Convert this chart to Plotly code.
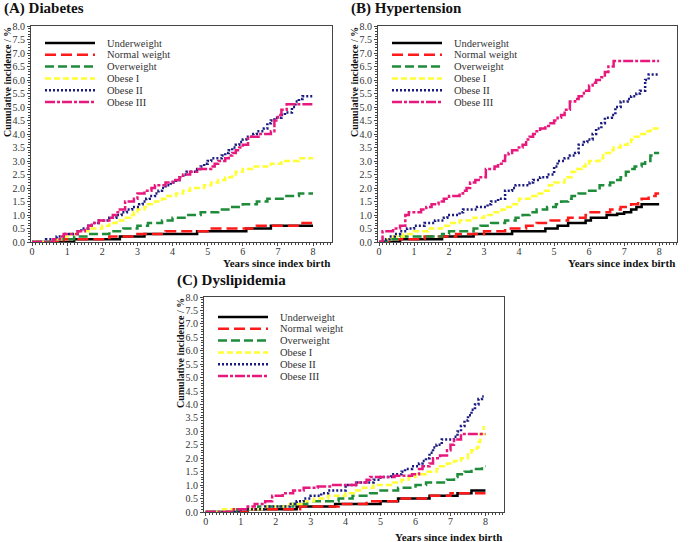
import plotly.graph_objects as go

W, H = 693, 542

# ---------------- data (years since index birth, cumulative incidence %) ----------------
groups = ["Underweight", "Normal weight", "Overweight", "Obese I", "Obese II", "Obese III"]

# (A) Diabetes
diab_under_t = [0, 1.2, 2.5, 3.2, 4.7, 6.1, 6.8, 8.0]
diab_under_ci = [0, 0.1, 0.2, 0.3, 0.4, 0.5, 0.6, 0.6]
diab_normal_t = [0, 0.9, 2.2, 3.0, 3.8, 5.0, 6.4, 7.7, 8.0]
diab_normal_ci = [0, 0.1, 0.2, 0.3, 0.4, 0.5, 0.6, 0.7, 0.7]
diab_over_t = [0, 0.7, 1.2, 1.6, 2.2, 2.6, 3.0, 3.3, 3.7, 4.0, 4.4, 4.8, 5.3, 5.7, 6.0, 6.4, 6.7, 7.2, 7.6, 8.0]
diab_over_ci = [0, 0.1, 0.2, 0.3, 0.4, 0.5, 0.6, 0.7, 0.8, 0.9, 1.0, 1.1, 1.2, 1.3, 1.4, 1.5, 1.6, 1.7, 1.8, 1.8]
diab_ob1_t = [0, 0.6, 0.9, 1.1, 1.3, 1.6, 2.0, 2.2, 2.4, 2.6, 2.8, 2.9, 3.0, 3.2, 3.3, 3.5, 3.7, 3.8, 4.1, 4.3,
              4.5, 4.9, 5.1, 5.3, 5.5, 5.7, 5.8, 6.0, 6.3, 6.8, 7.1, 7.6, 8.0]
diab_ob1_ci = [0, 0.1, 0.2, 0.3, 0.4, 0.5, 0.6, 0.7, 0.8, 0.9, 1.0, 1.1, 1.2, 1.3, 1.4, 1.5, 1.6, 1.7, 1.8, 1.9,
               2.0, 2.1, 2.2, 2.3, 2.4, 2.5, 2.6, 2.7, 2.8, 2.9, 3.0, 3.1, 3.1]
diab_ob2_t = [0, 0.4, 0.7, 0.9, 1.3, 1.4, 1.6, 1.7, 1.9, 2.2, 2.4, 2.55, 2.7, 2.85, 3.05, 3.15, 3.25, 3.35, 3.5, 3.6,
              3.7, 3.8, 3.95, 4.1, 4.2, 4.3, 4.4, 4.7, 4.8, 4.9, 5.0, 5.1, 5.4, 5.5, 5.6, 5.7, 5.8, 5.9, 6.0, 6.1,
              6.3, 6.4, 6.6, 6.7, 6.8, 6.9, 7.1, 7.2, 7.4, 7.5, 7.6, 7.7, 8.0]
diab_ob2_ci = [0, 0.1, 0.2, 0.3, 0.4, 0.5, 0.6, 0.7, 0.8, 0.9, 1.0, 1.1, 1.2, 1.3, 1.4, 1.5, 1.6, 1.7, 1.8, 1.9,
               2.0, 2.1, 2.2, 2.3, 2.4, 2.5, 2.6, 2.7, 2.8, 2.9, 3.0, 3.1, 3.2, 3.3, 3.4, 3.5, 3.6, 3.7, 3.8, 3.9,
               4.0, 4.1, 4.2, 4.4, 4.5, 4.6, 4.7, 4.8, 5.0, 5.2, 5.3, 5.4, 5.4]
diab_ob3_t = [0, 0.6, 0.8, 0.9, 1.3, 1.5, 1.6, 1.7, 1.9, 2.2, 2.3, 2.4, 2.5, 2.65, 2.9, 3.0, 3.2, 3.4, 3.5, 3.8,
              4.0, 4.2, 4.3, 4.5, 4.7, 5.1, 5.2, 5.3, 5.5, 5.6, 5.7, 5.8, 5.9, 6.0, 6.15, 6.5, 6.8, 6.9, 7.0, 7.1,
              7.25, 8.0]
diab_ob3_ci = [0, 0.1, 0.2, 0.3, 0.4, 0.5, 0.6, 0.7, 0.8, 0.9, 1.0, 1.1, 1.2, 1.5, 1.6, 1.8, 1.9, 2.0, 2.1, 2.2,
               2.3, 2.4, 2.5, 2.6, 2.7, 2.8, 2.9, 3.0, 3.1, 3.2, 3.3, 3.4, 3.5, 3.6, 3.9, 4.0, 4.1, 4.5, 4.7, 4.9,
               5.1, 5.1]

# (B) Hypertension
hyp_under_t = [0, 0.6, 1.8, 2.7, 3.8, 4.75, 5.1, 5.4, 5.9, 6.05, 6.5, 6.8, 7.0, 7.2, 7.35, 7.5, 8.0]
hyp_under_ci = [0, 0.1, 0.2, 0.3, 0.4, 0.5, 0.6, 0.7, 0.8, 0.9, 1.0, 1.05, 1.1, 1.2, 1.3, 1.4, 1.4]
hyp_normal_t = [0, 0.3, 1.3, 2.2, 3.0, 3.6, 4.2, 4.5, 4.9, 5.4, 5.9, 6.0, 6.6, 6.9, 7.2, 7.4, 7.5, 7.7, 7.9, 8.0]
hyp_normal_ci = [0, 0.1, 0.2, 0.3, 0.4, 0.5, 0.6, 0.7, 0.8, 0.9, 1.0, 1.1, 1.2, 1.3, 1.4, 1.5, 1.6, 1.7, 1.8, 1.8]
hyp_over_t = [0, 0.3, 0.6, 1.8, 2.0, 2.7, 2.9, 3.2, 3.6, 3.9, 4.1, 4.3, 4.5, 4.8, 5.05, 5.2, 5.4, 5.5, 5.7, 6.0,
              6.3, 6.6, 6.7, 6.9, 7.05, 7.2, 7.3, 7.5, 7.6, 7.75, 7.85, 8.0]
hyp_over_ci = [0, 0.1, 0.2, 0.3, 0.4, 0.5, 0.6, 0.7, 0.8, 0.9, 1.0, 1.1, 1.2, 1.3, 1.4, 1.5, 1.6, 1.7, 1.8, 1.9,
               2.1, 2.2, 2.3, 2.4, 2.6, 2.7, 2.8, 2.9, 3.0, 3.2, 3.3, 3.3]
hyp_ob1_t = [0, 0.2, 0.4, 0.7, 1.0, 1.4, 1.8, 2.0, 2.3, 2.7, 3.0, 3.3, 3.5, 3.6, 3.8, 4.0, 4.3, 4.5, 4.7, 4.85,
             5.0, 5.3, 5.5, 5.6, 5.8, 5.9, 6.0, 6.3, 6.4, 6.6, 6.7, 6.9, 7.1, 7.2, 7.3, 7.45, 7.6, 7.75, 8.0]
hyp_ob1_ci = [0, 0.1, 0.2, 0.3, 0.4, 0.5, 0.6, 0.7, 0.8, 0.9, 1.0, 1.1, 1.2, 1.3, 1.4, 1.6, 1.7, 1.8, 1.9, 2.1,
              2.2, 2.4, 2.6, 2.7, 2.8, 2.9, 3.0, 3.1, 3.3, 3.4, 3.5, 3.6, 3.7, 3.8, 3.9, 4.0, 4.1, 4.2, 4.2]
hyp_ob2_t = [0, 0.2, 0.3, 0.45, 0.6, 0.8, 1.0, 1.3, 1.6, 1.85, 1.95, 2.3, 2.4, 2.8, 3.1, 3.2, 3.4, 3.6, 3.8, 3.9,
             4.3, 4.4, 4.6, 4.8, 5.0, 5.1, 5.3, 5.45, 5.6, 5.7, 5.85, 5.95, 6.1, 6.2, 6.35, 6.45, 6.65, 6.75, 6.9, 7.1,
             7.2, 7.35, 7.45, 7.6, 7.7, 8.0]
hyp_ob2_ci = [0, 0.1, 0.2, 0.3, 0.4, 0.5, 0.6, 0.7, 0.8, 0.9, 1.0, 1.1, 1.2, 1.3, 1.4, 1.5, 1.6, 1.9, 2.0, 2.1,
              2.2, 2.3, 2.4, 2.5, 2.8, 3.0, 3.1, 3.2, 3.3, 3.6, 3.7, 3.8, 4.0, 4.2, 4.4, 4.6, 4.7, 5.0, 5.2, 5.3,
              5.4, 5.5, 5.6, 6.0, 6.2, 6.2]
hyp_ob3_t = [0, 0.1, 0.4, 0.6, 0.75, 0.85, 1.2, 1.35, 1.5, 1.7, 1.85, 2.0, 2.3, 2.4, 2.5, 2.6, 2.75, 2.9, 3.05, 3.3,
             3.4, 3.5, 3.6, 3.7, 3.8, 3.95, 4.1, 4.2, 4.3, 4.4, 4.5, 4.6, 4.75, 4.85, 5.0, 5.1, 5.2, 5.3, 5.45, 5.6,
             5.7, 5.85, 6.0, 6.1, 6.2, 6.35, 6.45, 6.55, 6.7, 8.0]
hyp_ob3_ci = [0, 0.4, 0.5, 0.6, 1.0, 1.1, 1.2, 1.3, 1.4, 1.5, 1.6, 1.7, 1.8, 1.9, 2.0, 2.2, 2.3, 2.4, 2.7, 2.8,
              2.9, 3.0, 3.2, 3.3, 3.4, 3.5, 3.6, 3.8, 3.9, 4.0, 4.1, 4.2, 4.3, 4.4, 4.5, 4.6, 4.7, 4.9, 5.2, 5.3,
              5.4, 5.6, 5.8, 5.9, 6.0, 6.1, 6.3, 6.5, 6.7, 6.7]

# (C) Dyslipidemia
dys_under_t = [0, 1.2, 2.6, 3.7, 5.0, 5.5, 6.4, 7.2, 7.6, 8.0]
dys_under_ci = [0, 0.1, 0.2, 0.3, 0.4, 0.5, 0.6, 0.7, 0.8, 0.8]
dys_normal_t = [0, 1.3, 2.7, 3.8, 4.6, 5.5, 6.3, 7.0, 8.0]
dys_normal_ci = [0, 0.1, 0.2, 0.3, 0.4, 0.5, 0.6, 0.7, 0.7]
dys_over_t = [0, 0.9, 1.5, 2.5, 2.9, 3.8, 4.2, 4.7, 5.0, 5.5, 6.0, 6.3, 6.9, 7.1, 7.2, 7.4, 7.6, 7.9, 8.0]
dys_over_ci = [0, 0.1, 0.2, 0.3, 0.4, 0.5, 0.6, 0.7, 0.8, 0.9, 1.0, 1.1, 1.2, 1.3, 1.4, 1.5, 1.6, 1.7, 1.7]
dys_ob1_t = [0, 0.5, 1.7, 2.4, 2.8, 3.1, 3.5, 4.0, 4.3, 4.5, 4.8, 5.3, 5.6, 5.8, 6.0, 6.3, 6.6, 6.7, 6.9, 7.1,
             7.3, 7.5, 7.6, 7.75, 7.8, 7.85, 7.95]
dys_ob1_ci = [0, 0.1, 0.2, 0.3, 0.4, 0.5, 0.6, 0.7, 0.8, 0.9, 1.0, 1.1, 1.2, 1.3, 1.4, 1.5, 1.6, 1.7, 1.8, 1.9,
              2.0, 2.2, 2.3, 2.4, 2.6, 2.9, 3.2]
dys_ob2_t = [0, 1.0, 1.7, 2.4, 2.6, 2.8, 3.0, 3.3, 3.5, 4.0, 4.3, 4.8, 5.0, 5.3, 5.6, 5.7, 5.9, 6.1, 6.2, 6.3,
             6.4, 6.5, 6.6, 6.75, 7.1, 7.2, 7.3, 7.4, 7.5, 7.6, 7.7, 7.8, 7.9, 7.95]
dys_ob2_ci = [0, 0.1, 0.2, 0.3, 0.4, 0.5, 0.6, 0.7, 0.8, 1.0, 1.1, 1.2, 1.3, 1.4, 1.5, 1.6, 1.7, 1.8, 1.9, 2.0,
              2.2, 2.4, 2.5, 2.7, 2.8, 3.0, 3.2, 3.4, 3.6, 3.8, 4.0, 4.2, 4.3, 4.3]
dys_ob3_t = [0, 0.8, 1.2, 1.4, 1.7, 1.9, 2.2, 2.5, 2.8, 3.2, 3.6, 4.3, 4.6, 4.7, 5.4, 5.9, 6.1, 6.2, 6.4, 6.5,
             6.7, 6.9, 7.0, 7.1, 7.3, 8.0]
dys_ob3_ci = [0, 0.1, 0.2, 0.3, 0.4, 0.6, 0.7, 0.8, 0.9, 0.95, 1.0, 1.1, 1.2, 1.3, 1.35, 1.4, 1.6, 1.7, 1.8, 2.0,
              2.1, 2.3, 2.5, 2.7, 2.9, 2.9]

panel_titles = ["(A) Diabetes", "(B) Hypertension", "(C) Dyslipidemia"]
x_title = "Years since index birth"
y_title = "Cumulative incidence / %"

# ---------------- styles ----------------
SERIF = "Liberation Serif"
styles = [
    dict(color="#000000", dash="solid"),
    dict(color="#ff1a1a", dash="11px,5px"),
    dict(color="#1e8c3a", dash="9px,4px"),
    dict(color="#ffff33", dash="6px,3px"),
    dict(color="#1a1a80", dash="2px,2px"),
    dict(color="#e8197d", dash="10px,2px,3px,2px"),
]
LW = 2.5

panels = [
    [(diab_under_t, diab_under_ci), (diab_normal_t, diab_normal_ci), (diab_over_t, diab_over_ci),
     (diab_ob1_t, diab_ob1_ci), (diab_ob2_t, diab_ob2_ci), (diab_ob3_t, diab_ob3_ci)],
    [(hyp_under_t, hyp_under_ci), (hyp_normal_t, hyp_normal_ci), (hyp_over_t, hyp_over_ci),
     (hyp_ob1_t, hyp_ob1_ci), (hyp_ob2_t, hyp_ob2_ci), (hyp_ob3_t, hyp_ob3_ci)],
    [(dys_under_t, dys_under_ci), (dys_normal_t, dys_normal_ci), (dys_over_t, dys_over_ci),
     (dys_ob1_t, dys_ob1_ci), (dys_ob2_t, dys_ob2_ci), (dys_ob3_t, dys_ob3_ci)],
]

# plot boxes in pixels: left, right, top, bottom
boxes = [(31, 332, 26, 242), (378, 677, 26, 242), (204, 504, 297, 512)]
xranges = [[-0.03, 8.54], [-0.03, 8.51], [-0.05, 8.53]]
xlabel_gap = [21, 21, 25]

def px(x):
    return x / W

def py(y):
    return 1 - y / H

fig = go.Figure()
layout = dict(width=W, height=H, margin=dict(l=0, r=0, t=0, b=0, autoexpand=False),
              paper_bgcolor="white", plot_bgcolor="white", showlegend=False,
              font=dict(family=SERIF, color="#222"))
annotations = []
shapes = []

for i, (series, box) in enumerate(zip(panels, boxes)):
    sfx = "" if i == 0 else str(i + 1)
    l, r, t, b = box
    axcommon = dict(showline=True, linecolor="#444", linewidth=1, mirror=True, showgrid=False,
                    zeroline=False, ticks="outside", ticklen=3, tickcolor="#444", automargin=False,
                    tickfont=dict(family=SERIF, size=10, color="#333"))
    layout["xaxis" + sfx] = dict(domain=[px(l), px(r)], range=xranges[i], anchor="y" + sfx,
                                 tickmode="array", tickvals=list(range(9)), ticklabelstandoff=-3,
                                 minor=dict(ticks="outside", ticklen=2, dtick=0.1, tick0=0, tickcolor="#444"),
                                 **axcommon)
    layout["yaxis" + sfx] = dict(domain=[py(b), py(t)], range=[0, 8], anchor="x" + sfx,
                                 tickmode="linear", tick0=0, dtick=0.5, tickformat=".1f",
                                 minor=dict(ticks="outside", ticklen=2, dtick=0.1, tick0=0, tickcolor="#444"),
                                 **axcommon)
    for (tt, cc), st, name in zip(series, styles, groups):
        fig.add_trace(go.Scatter(x=tt, y=cc, mode="lines", name=name, line_shape="hv",
                                 line=dict(color=st["color"], dash=st["dash"], width=LW),
                                 xaxis="x" + sfx, yaxis="y" + sfx, hoverinfo="skip"))
    # legend (drawn manually)
    ly0 = t + (17 if i < 2 else 20)
    lx0 = l + 14
    for k, (st, name) in enumerate(zip(styles, groups)):
        yy = ly0 + 11.8 * k
        shapes.append(dict(type="line", xref="paper", yref="paper", x0=px(lx0), x1=px(lx0 + 50),
                           y0=py(yy), y1=py(yy), line=dict(color=st["color"], dash=st["dash"], width=LW)))
        annotations.append(dict(x=px(lx0 + 60), y=py(yy), xref="paper", yref="paper", text=name,
                                showarrow=False, xanchor="left", yanchor="middle",
                                font=dict(family=SERIF, size=10.5, color="#333")))
    # panel title
    annotations.append(dict(x=px(l - 29), y=py(t - 17), xref="paper", yref="paper",
                            text="<b>" + panel_titles[i] + "</b>", showarrow=False,
                            xanchor="left", yanchor="middle",
                            font=dict(family=SERIF, size=15, color="#111")))
    # y title
    annotations.append(dict(x=px(l - 24), y=py(t - 1), xref="paper", yref="paper",
                            text="<b>" + y_title + "</b>", showarrow=False, textangle=-90,
                            xanchor="center", yanchor="top",
                            font=dict(family=SERIF, size=10, color="#111")))
    # x title
    annotations.append(dict(x=px(r), y=py(b + xlabel_gap[i]), xref="paper", yref="paper",
                            text="<b>" + x_title + "</b>", showarrow=False,
                            xanchor="right", yanchor="middle",
                            font=dict(family=SERIF, size=11, color="#111")))

layout["annotations"] = annotations
layout["shapes"] = shapes
fig.update_layout(**layout)
fig.write_html("out.html", config={"displayModeBar": False},
               post_script="document.body.style.margin='0';document.body.style.overflow='hidden';")
